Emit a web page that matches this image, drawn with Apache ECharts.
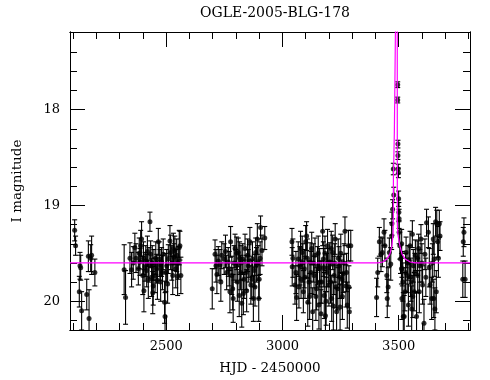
<!DOCTYPE html>
<html><head><meta charset="utf-8">
<script src="https://cdn.jsdelivr.net/npm/echarts@6/dist/echarts.min.js"></script>
<style>html,body{margin:0;padding:0;background:#fff}#c{width:490px;height:380px}</style>
</head><body><div id="c"></div>
<script>
// ---- data: [HJD-2450000, I mag, error] ----
const seasonA = [[2106,19.26,0.11],[2110,19.42,0.10],[2126,19.90,0.16],[2129,19.63,0.14],[2132,19.65,0.13],[2136,20.10,0.2],[2158,19.93,0.16],[2165,19.53,0.16],[2168,20.18,0.3],[2175,19.55,0.14],[2179,19.52,0.2],[2193,19.70,0.14]];
const seasonB = [[2319,19.67,0.26],[2325,19.96,0.28],[2344,19.55,0.16],[2351,19.67,0.18],[2358,19.60,0.17],[2365,19.44,0.15],[2370,19.55,0.15],[2380,19.66,0.17],[2384,19.50,0.16],[2387,19.59,0.14],[2390,19.42,0.16],[2394,19.35,0.18],[2399,19.73,0.2],[2402,19.55,0.17],[2404,19.89,0.22],[2409,19.64,0.15],[2412,19.58,0.16],[2416,19.68,0.17],[2419,19.48,0.16],[2423,19.77,0.2],[2426,19.62,0.18],[2430,19.17,0.1],[2433,19.51,0.14],[2437,19.75,0.2],[2440,19.60,0.18],[2442,19.91,0.22],[2444,19.84,0.2],[2447,19.62,0.16],[2452,19.73,0.18],[2455,19.55,0.17],[2459,19.66,0.15],[2462,19.78,0.2],[2466,19.38,0.14],[2470,19.56,0.18],[2473,19.62,0.16],[2476,19.80,0.2],[2480,19.59,0.15],[2484,19.70,0.18],[2487,19.51,0.16],[2493,20.01,0.22],[2495,20.16,0.25],[2498,19.70,0.2],[2502,19.63,0.17],[2506,19.82,0.2],[2509,19.56,0.15],[2516,19.37,0.16],[2519,19.49,0.18],[2524,19.60,0.18],[2528,19.73,0.2],[2531,19.45,0.16],[2533,19.54,0.14],[2537,19.47,0.15],[2541,19.66,0.2],[2545,19.52,0.17],[2549,19.74,0.2],[2552,19.60,0.17],[2556,19.44,0.18],[2559,19.42,0.15],[2563,19.73,0.19]];
const seasonC = [[2698,19.87,0.21],[2710,19.51,0.15],[2714,19.63,0.17],[2718,19.72,0.2],[2724,19.58,0.15],[2731,19.62,0.16],[2735,19.80,0.2],[2739,19.52,0.14],[2749,19.56,0.16],[2755,19.48,0.17],[2760,19.70,0.18],[2767,19.59,0.15],[2771,19.66,0.18],[2774,19.90,0.22],[2777,19.38,0.16],[2782,19.73,0.2],[2786,19.87,0.22],[2788,19.97,0.25],[2792,19.60,0.18],[2796,19.45,0.15],[2800,19.63,0.17],[2803,19.50,0.17],[2806,19.80,0.2],[2810,19.49,0.15],[2814,19.94,0.22],[2816,19.55,0.17],[2820,19.70,0.18],[2822,19.60,0.18],[2825,20.02,0.25],[2829,19.56,0.16],[2832,19.92,0.22],[2835,19.77,0.2],[2839,19.45,0.15],[2843,19.70,0.18],[2846,19.89,0.22],[2850,19.52,0.17],[2853,19.63,0.17],[2857,19.58,0.17],[2860,19.38,0.15],[2864,19.83,0.2],[2868,19.77,0.2],[2871,19.56,0.18],[2875,19.97,0.24],[2879,19.68,0.17],[2882,19.85,0.2],[2885,19.49,0.15],[2888,19.62,0.18],[2892,19.35,0.16],[2895,19.60,0.18],[2898,19.97,0.24],[2900,19.77,0.2],[2904,19.55,0.17],[2906,19.23,0.12],[2912,19.47,0.16],[2924,19.34,0.12]];
const seasonD = [[3041,19.38,0.14],[3042,19.64,0.2],[3045,19.55,0.2],[3054,19.83,0.2],[3058,19.70,0.22],[3061,19.96,0.24],[3068,19.56,0.18],[3071,19.85,0.22],[3075,19.63,0.2],[3078,19.45,0.18],[3080,19.77,0.2],[3085,19.49,0.17],[3088,19.60,0.2],[3090,19.90,0.22],[3094,19.66,0.2],[3097,19.75,0.22],[3100,19.38,0.17],[3104,19.32,0.15],[3107,19.55,0.2],[3109,20.01,0.25],[3114,19.80,0.22],[3117,19.95,0.24],[3119,19.59,0.2],[3123,19.70,0.22],[3126,19.45,0.17],[3130,20.11,0.25],[3133,19.60,0.2],[3136,19.73,0.2],[3140,19.52,0.18],[3144,19.95,0.25],[3147,19.87,0.22],[3151,19.63,0.2],[3154,19.50,0.18],[3157,20.04,0.25],[3160,19.65,0.2],[3162,19.80,0.22],[3166,20.13,0.25],[3169,19.80,0.22],[3173,19.27,0.15],[3176,19.56,0.18],[3178,19.65,0.2],[3180,19.94,0.24],[3183,19.50,0.18],[3185,20.15,0.25],[3188,20.00,0.25],[3190,19.70,0.2],[3194,19.42,0.17],[3197,19.65,0.2],[3200,19.83,0.22],[3204,19.59,0.2],[3207,19.80,0.22],[3210,19.45,0.18],[3212,19.97,0.24],[3216,19.49,0.18],[3219,20.05,0.25],[3222,19.73,0.2],[3225,19.60,0.2],[3227,19.35,0.16],[3230,19.85,0.22],[3233,20.11,0.25],[3238,19.87,0.22],[3240,19.55,0.2],[3243,19.63,0.2],[3246,19.75,0.22],[3248,20.06,0.24],[3251,19.50,0.2],[3255,19.77,0.2],[3258,19.95,0.24],[3262,19.71,0.2],[3265,19.60,0.2],[3269,19.27,0.15],[3273,19.84,0.22],[3276,19.70,0.2],[3279,20.04,0.24],[3284,19.42,0.16],[3286,19.85,0.22],[3288,20.11,0.25],[3294,19.42,0.16]];
const seasonE = [[3405,19.96,0.2],[3410,19.70,0.15],[3417,19.38,0.15],[3424,19.51,0.18],[3430,19.49,0.15],[3437,19.28,0.14],[3441,19.42,0.16],[3449,19.73,0.18],[3451,19.97,0.2],[3455,19.85,0.2],[3460,19.49,0.15],[3466,19.61,0.17],[3470,19.32,0.14],[3471,19.19,0.12],[3474,19.04,0.1],[3477,18.62,0.06],[3479,18.89,0.08],
[3496,17.74,0.03],[3496,17.90,0.03],[3497,18.36,0.04],[3497,18.48,0.04],[3498,18.62,0.05],[3499,18.66,0.05],[3500,18.93,0.08],[3501,19.07,0.1],[3502,19.14,0.1],[3502,19.28,0.12],[3505,19.42,0.14],[3508,19.56,0.15],[3512,19.66,0.16],
[3513,19.40,0.15],[3514,19.97,0.22],[3516,19.66,0.18],[3518,19.80,0.2],[3520,20.16,0.25],[3524,20.16,0.22],[3527,19.90,0.2],[3530,19.70,0.2],[3532,19.49,0.16],[3537,19.73,0.18],[3540,19.60,0.18],[3542,20.04,0.22],[3546,19.59,0.17],[3549,19.42,0.15],[3551,19.75,0.2],[3553,19.80,0.2],[3556,20.08,0.24],[3559,19.30,0.14],[3561,19.95,0.22],[3563,19.63,0.17],[3567,19.90,0.2],[3570,19.70,0.2],[3572,19.52,0.16],[3577,20.16,0.25],[3580,19.55,0.18],[3582,19.73,0.18],[3586,19.45,0.15],[3589,19.90,0.22],[3591,19.63,0.17],[3596,19.35,0.15],[3600,19.60,0.2],[3603,19.83,0.2],[3609,20.23,0.25],[3613,19.51,0.16],[3617,19.75,0.2],[3620,19.18,0.14],[3628,19.28,0.16],[3632,19.65,0.2],[3635,19.83,0.2],[3642,19.97,0.22],[3645,19.60,0.2],[3649,19.35,0.16],[3651,19.97,0.2],[3653,19.56,0.18],[3656,20.08,0.22],[3659,19.17,0.15],[3662,19.90,0.22],[3664,19.19,0.14],[3668,19.38,0.16],[3671,19.55,0.2],[3675,19.19,0.14],[3678,19.32,0.15]];
const seasonF = [[3776,19.77,0.19],[3778,19.38,0.15],[3781,19.28,0.15],[3786,19.77,0.19]];
// model curve
const modelCurve = [[2086,19.60],[3410,19.60],[3432,19.59],[3449,19.56],[3462,19.51],[3471,19.42],[3476,19.30],[3477,19.14],[3477.5,18.73],[3481,18.73],[3481.5,18.24],[3485.5,18.22],[3487,17.0],[3488.5,16.0],[3491,15.6],[3493,16.0],[3494,17.0],[3494.3,19.19],[3497,19.31],[3506,19.43],[3515,19.51],[3528,19.56],[3550,19.59],[3572,19.60],[3807,19.60]];
// axis ticks
const xMajor = [2500,3000,3500];
const xMinor = [2100,2200,2300,2400,2600,2700,2800,2900,3100,3200,3300,3400,3600,3700,3800];
const yMajor = [18,19,20];
const yMinor = [17.4,17.6,17.8,18.2,18.4,18.6,18.8,19.2,19.4,19.6,19.8,20.2];
const X_MIN = 2086, X_MAX = 3807, Y_MIN = 17.19, Y_MAX = 20.30;

const allData = seasonA.concat(seasonB, seasonC, seasonD, seasonE, seasonF);
const FONT = 'DejaVu Serif';
const chart = echarts.init(document.getElementById('c'), null, {renderer:'canvas'});

function xAx(pos, ticks, len, labels) {
  return {type:'value', min:X_MIN, max:X_MAX, position:pos, gridIndex:0,
    axisLine:{show:true, onZero:false, lineStyle:{color:'#000', width:1}},
    axisTick:{show:true, inside:true, length:len, customValues:ticks, lineStyle:{color:'#000'}},
    axisLabel:{show:!!labels, customValues:ticks, margin:10, color:'#000', fontFamily:FONT, fontSize:13, formatter:v=>String(v)},
    splitLine:{show:false}};
}
function yAx(pos, ticks, len, labels) {
  return {type:'value', min:Y_MIN, max:Y_MAX, inverse:true, position:pos, gridIndex:0,
    axisLine:{show:true, onZero:false, lineStyle:{color:'#000', width:1}},
    axisTick:{show:true, inside:true, length:len, customValues:ticks, lineStyle:{color:'#000'}},
    axisLabel:{show:!!labels, customValues:ticks, margin:10, color:'#000', fontFamily:FONT, fontSize:13, formatter:v=>String(v)},
    splitLine:{show:false}};
}
const xa0 = xAx('bottom', xMajor, 15, true);
xa0.name = 'HJD - 2450000'; xa0.nameLocation = 'middle'; xa0.nameGap = 31;
xa0.nameTextStyle = {color:'#000', fontFamily:FONT, fontSize:13.5};
const ya0 = yAx('left', yMajor, 15, true);
ya0.name = 'I magnitude'; ya0.nameLocation = 'middle'; ya0.nameGap = 46; ya0.nameRotate = 90;
ya0.nameTextStyle = {color:'#000', fontFamily:FONT, fontSize:13.5};

function renderErr(params, api) {
  const x = api.value(0), y = api.value(1), e = api.value(2);
  const a = api.coord([x, y - e]), b = api.coord([x, y + e]);
  const w = 2.5, st = {stroke:'#000', lineWidth:1.1};
  return {type:'group', children:[
    {type:'line', shape:{x1:a[0], y1:a[1], x2:b[0], y2:b[1]}, style:st},
    {type:'line', shape:{x1:a[0]-w, y1:a[1], x2:a[0]+w, y2:a[1]}, style:st},
    {type:'line', shape:{x1:b[0]-w, y1:b[1], x2:b[0]+w, y2:b[1]}, style:st}
  ]};
}

chart.setOption({
  animation:false,
  backgroundColor:'#fff',
  title:{text:'OGLE-2005-BLG-178', left:270, top:1, textAlign:'center',
    textStyle:{fontFamily:FONT, fontSize:14, fontWeight:'normal', color:'#000'}},
  grid:{left:70, right:20, top:32, bottom:48},
  xAxis:[xa0, xAx('bottom', xMinor, 7, false), xAx('top', xMajor, 15, false), xAx('top', xMinor, 7, false)],
  yAxis:[ya0, yAx('left', yMinor, 7, false), yAx('right', yMajor, 15, false), yAx('right', yMinor, 7, false)],
  series:[
    {type:'custom', renderItem:renderErr, data:allData, clip:true, xAxisIndex:0, yAxisIndex:0, z:2},
    {type:'scatter', data:allData.map(d=>[d[0],d[1]]), symbol:'circle', symbolSize:5, clip:true,
      itemStyle:{color:'#000'}, xAxisIndex:0, yAxisIndex:0, z:3},
    {type:'line', data:modelCurve, showSymbol:false, symbol:'none', clip:true,
      lineStyle:{color:'#ff00ff', width:1.2}, xAxisIndex:0, yAxisIndex:0, z:4}
  ]
});
</script></body></html>
